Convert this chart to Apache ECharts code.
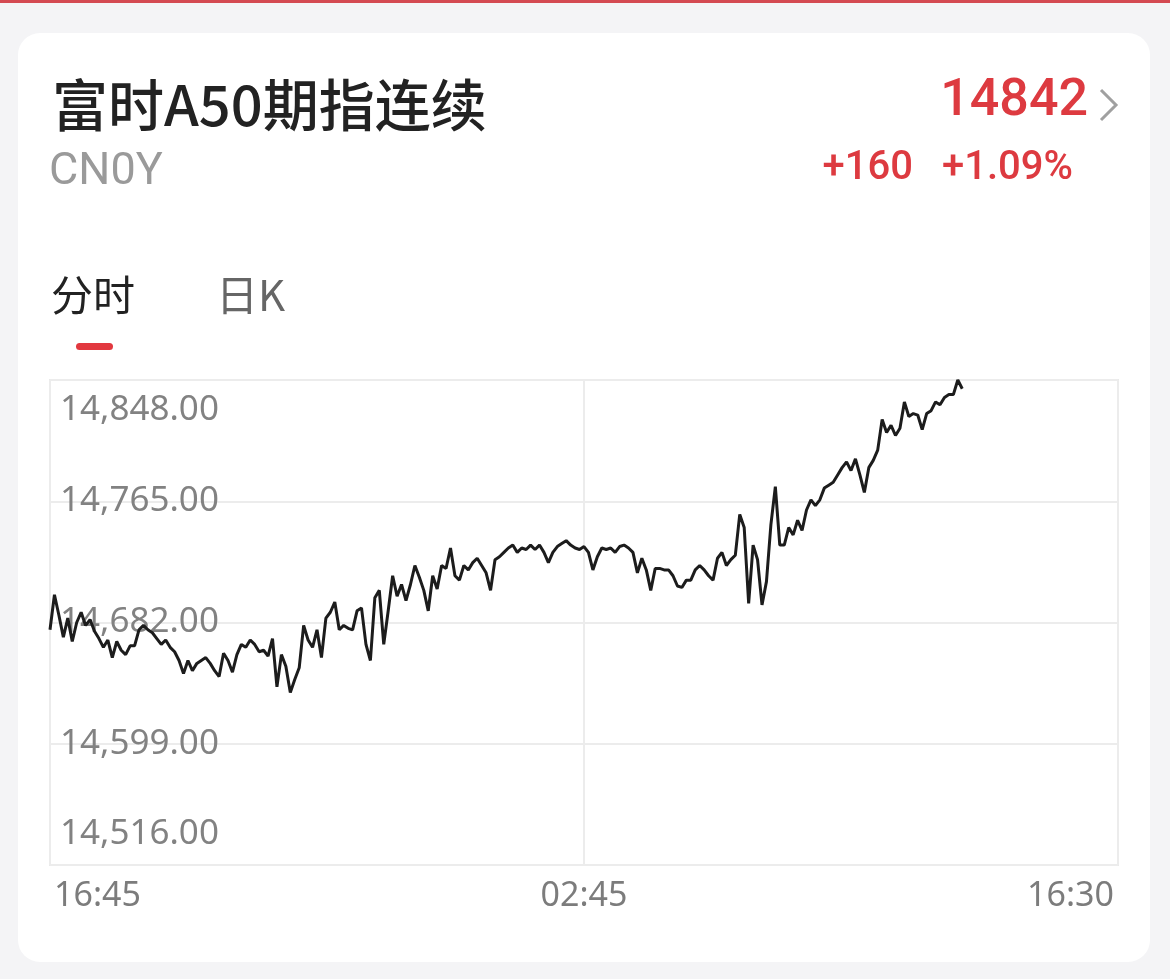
<!DOCTYPE html>
<html><head><meta charset="utf-8">
<script src="https://cdn.jsdelivr.net/npm/echarts@6/dist/echarts.min.js"></script>
<style>
html,body{margin:0;padding:0;background:#f4f4f6;}
#topbar{position:absolute;left:0;top:0;width:1170px;height:3px;background:#d44a52;}
#card{position:absolute;left:18px;top:33px;width:1132px;height:929px;background:#fff;border-radius:22px;}
#chart{position:absolute;left:0;top:0;width:1170px;height:979px;}
</style></head><body>
<div id="topbar"></div><div id="card"></div><div id="chart"></div>
<script>
const titleText = '富时A50期指连续';
const codeText = 'CN0Y';
const lastPrice = '14842';
const changeAbs = '+160';
const changePct = '+1.09%';
const tabs = ['分时', '日K'];
const timeLabels = ['16:45', '02:45', '16:30'];
const timeTickMinutes = [0, 600, 1200];
const stepMinutes = 5;
const yTicks = [14516, 14599, 14682, 14765, 14848];
const prices = [
14677,14701,14687,14672,14685,14669,14682,14689,14680,14684,
14676,14671,14665,14670,14658,14669,14663,14660,14666,14666,
14677,14680,14677,14675,14671,14667,14670,14665,14662,14656,
14647,14656,14649,14654,14656,14658,14654,14649,14645,14661,
14656,14648,14660,14667,14665,14670,14667,14662,14663,14659,
14671,14638,14660,14652,14634,14643,14651,14680,14670,14665,
14677,14658,14685,14689,14696,14677,14680,14678,14677,14690,
14692,14667,14656,14699,14704,14667,14690,14714,14700,14708,
14697,14708,14721,14713,14704,14690,14714,14705,14721,14719,
14733,14714,14711,14721,14718,14723,14726,14721,14716,14704,
14725,14727,14730,14733,14735,14730,14733,14732,14735,14732,
14735,14730,14723,14730,14734,14736,14738,14735,14733,14732,
14734,14730,14718,14727,14733,14732,14733,14730,14734,14735,
14733,14730,14716,14726,14718,14704,14719,14719,14718,14718,
14714,14707,14706,14711,14711,14718,14721,14718,14714,14711,
14726,14730,14721,14725,14728,14756,14747,14695,14735,14725,
14694,14710,14749,14775,14735,14735,14747,14742,14752,14745,
14759,14766,14762,14766,14774,14776,14778,14783,14788,14792,
14786,14794,14783,14771,14788,14793,14800,14821,14812,14817,
14810,14815,14833,14823,14825,14824,14814,14825,14827,14833,
14831,14836,14838,14838,14848,14842
];

const red = '#dd3a40';
const numFont = 'Roboto, "Noto Sans", sans-serif';
const cjkFont = '"Noto Sans CJK SC", "Noto Sans", sans-serif';
const axisFont = '"Noto Sans", "DejaVu Sans", sans-serif';

const chart = echarts.init(document.getElementById('chart'), null, {renderer: 'canvas'});
chart.setOption({
  animation: false,
  backgroundColor: 'transparent',
  grid: {left: 50, right: 52, top: 380, bottom: 114, show: true, borderColor: '#e9e9e9', borderWidth: 2},
  xAxis: {
    type: 'value', min: 0, max: timeTickMinutes[2], interval: timeTickMinutes[1],
    axisLine: {show: false}, axisTick: {show: false},
    splitLine: {show: true, lineStyle: {color: '#ececec', width: 2}},
    axisLabel: {
      color: '#7c7c7c', fontSize: 34, fontFamily: axisFont, margin: 14,
      padding: [0, 4, 0, 4],
      alignMinLabel: 'left', alignMaxLabel: 'right',
      formatter: v => timeLabels[timeTickMinutes.indexOf(v)] || ''
    }
  },
  yAxis: {
    type: 'value', min: yTicks[0], max: yTicks[yTicks.length - 1], interval: yTicks[1] - yTicks[0],
    axisLine: {show: false}, axisTick: {show: false},
    splitLine: {show: true, lineStyle: {color: '#ececec', width: 2}},
    axisLabel: {
      inside: true, margin: 10, color: '#828282', fontSize: 35, fontFamily: axisFont,
      padding: [13, 0, 13, 0],
      verticalAlignMinLabel: 'bottom', verticalAlignMaxLabel: 'top',
      formatter: v => v.toLocaleString('en-US', {minimumFractionDigits: 2, maximumFractionDigits: 2})
    }
  },
  series: [{
    type: 'line', showSymbol: false, symbol: 'none',
    data: prices.map((p, i) => [i * stepMinutes, p]),
    lineStyle: {color: '#1c1c1c', width: 3},
    z: 5
  }],
  graphic: [
    {type: 'text', x: 52, y: 105, style: {text: titleText, fill: '#222', font: '500 56px ' + cjkFont, align: 'left', verticalAlign: 'middle'}},
    {type: 'text', x: 49, y: 173, style: {text: codeText, fill: '#9a9a9a', font: '400 45px ' + numFont, align: 'left', verticalAlign: 'middle'}},
    {type: 'text', x: 1088, y: 102, style: {text: lastPrice, fill: red, font: '500 52px ' + numFont, align: 'right', verticalAlign: 'middle'}},
    {type: 'polyline', shape: {points: [[1101, 90], [1116, 105], [1101, 120]]}, style: {stroke: '#a0a0a0', lineWidth: 3, fill: null}},
    {type: 'text', x: 913, y: 169, style: {text: changeAbs, fill: red, font: '500 40px ' + numFont, align: 'right', verticalAlign: 'middle'}},
    {type: 'text', x: 1073, y: 169, style: {text: changePct, fill: red, font: '500 40px ' + numFont, align: 'right', verticalAlign: 'middle'}},
    {type: 'text', x: 51, y: 295, style: {text: tabs[0], fill: '#222', font: '400 42px ' + cjkFont, align: 'left', verticalAlign: 'middle'}},
    {type: 'text', x: 216, y: 295, style: {text: tabs[1], fill: '#666', font: '400 42px ' + cjkFont, align: 'left', verticalAlign: 'middle'}},
    {type: 'rect', shape: {x: 76, y: 343, width: 37, height: 7, r: 3.5}, style: {fill: '#e2383f'}}
  ]
});
</script>
</body></html>
